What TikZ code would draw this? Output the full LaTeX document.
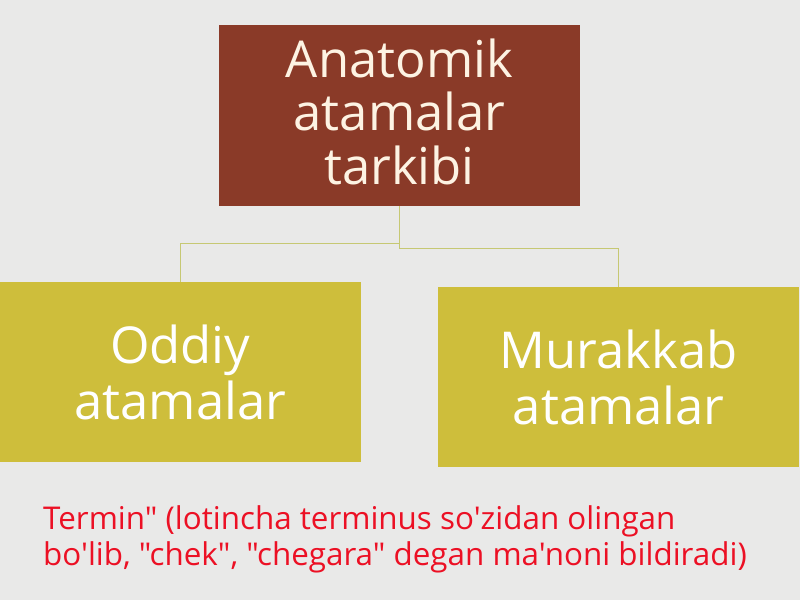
\documentclass[tikz,border=0pt]{standalone}
\usepackage{fontspec}
\setmainfont{Open Sans}[Ligatures=TeXOff]
\definecolor{bgmid}{HTML}{E9E9E8}
\definecolor{bgedge}{HTML}{DCDFB6}
\definecolor{rootred}{HTML}{8A3A28}
\definecolor{leafolive}{HTML}{CEBE3B}
\definecolor{linkolive}{HTML}{C6C873}
\definecolor{cream}{HTML}{FDF3E3}
\definecolor{notered}{HTML}{EC1024}
\pgfdeclareradialshading{slidebg}{\pgfpoint{0bp}{0bp}}{color(0bp)=(bgmid); color(40bp)=(bgmid); color(50bp)=(bgedge); color(72bp)=(bgedge)}
\begin{document}
\begin{tikzpicture}[x=1bp, y=1bp, level distance=257bp,
  level 1/.style={sibling distance=438.5bp},
  edge from parent/.style={draw=linkolive, line width=1.3bp},
  edge from parent path={(\tikzparentnode.south) |- ([yshift=39bp]\tikzchildnode.north) -- (\tikzchildnode.north)},
  rootbox/.style={fill=rootred, text=cream, minimum width=361bp, minimum height=181bp, inner sep=0pt, align=center, text depth=8bp, font=\fontsize{51}{53.5}\selectfont},
  leafbox/.style={fill=leafolive, text=white, minimum width=361bp, minimum height=180bp, inner sep=0pt, align=center, font=\fontsize{51}{56}\selectfont}]

% slide background
\shade[shading=slidebg] (0,0) rectangle (800,600);
\useasboundingbox (0,0) rectangle (800,600);

\node[rootbox] (tarkib) at (399.5,484.5) {Anatomik\\atamalar\\tarkibi}
	child {node[leafbox] (oddiy) {Oddiy\\atamalar}}
	child {node[leafbox, yshift=-5bp] (murakkab) {Murakkab\\atamalar}};

\node[anchor=north west, align=left, inner sep=0pt, text=notered, font=\fontsize{31.5}{37}\selectfont] (termin) at (43,95)
	{Termin" (lotincha terminus so'zidan olingan\\bo'lib, "chek", "chegara" degan ma'noni bildiradi)};
\end{tikzpicture}
\end{document}
